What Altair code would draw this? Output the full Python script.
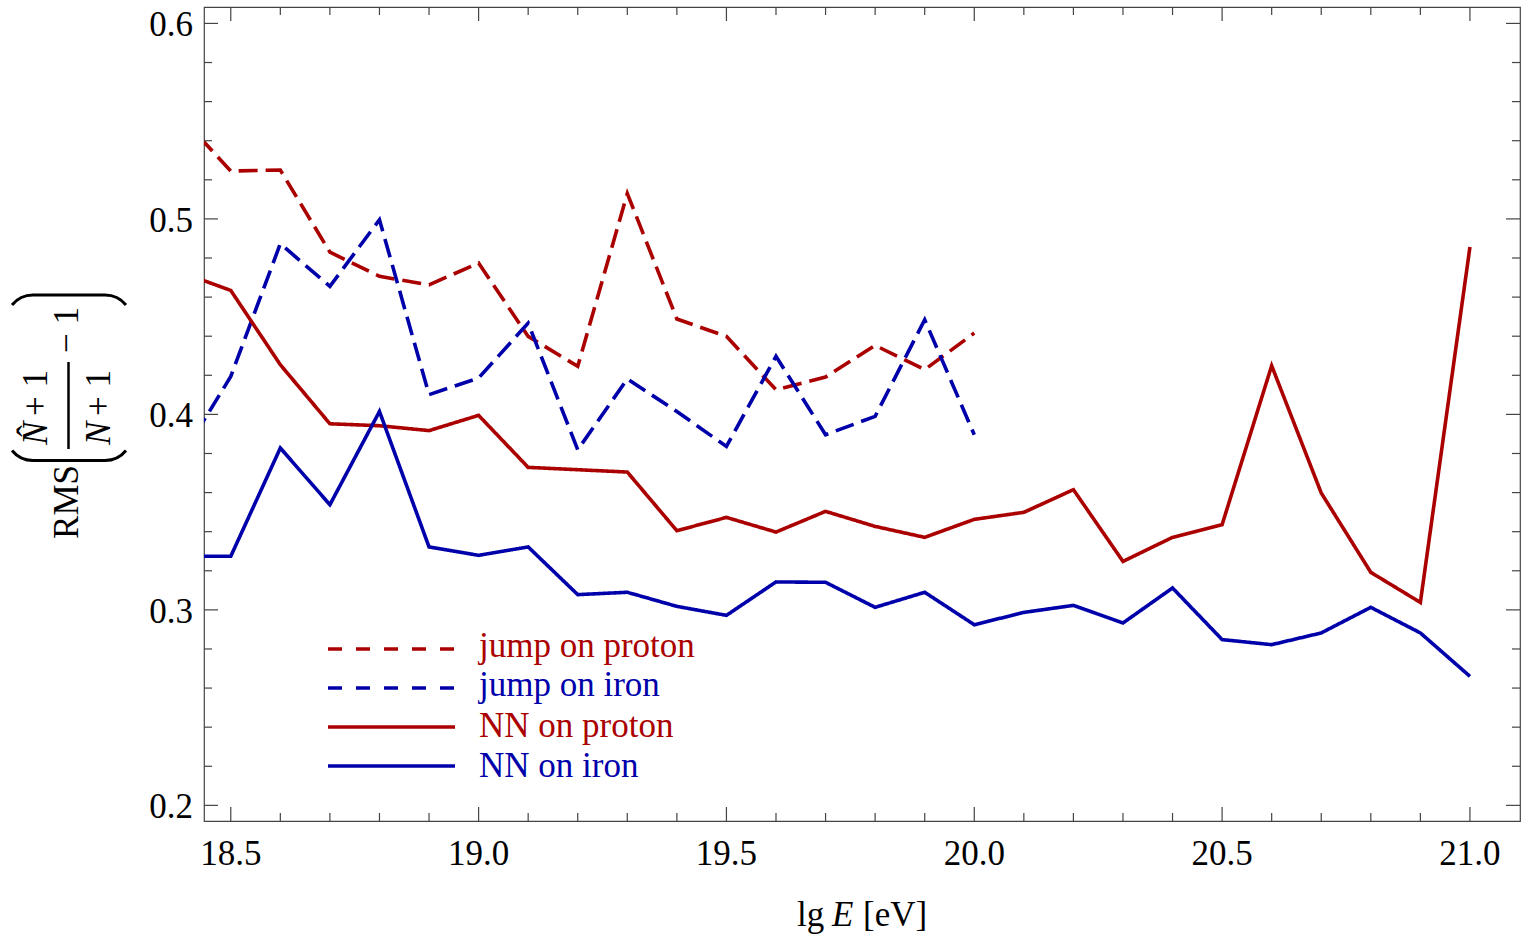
import altair as alt
import pandas as pd

# ---- data -------------------------------------------------------------
# lg(E/eV) bins of the two reconstruction methods
energy_nn = [18.4, 18.5, 18.6, 18.7, 18.8, 18.9, 19.0, 19.1, 19.2, 19.3,
             19.4, 19.5, 19.6, 19.7, 19.8, 19.9, 20.0, 20.1, 20.2, 20.3,
             20.4, 20.5, 20.6, 20.7, 20.8, 20.9, 21.0]
energy_jump = [18.4, 18.5, 18.6, 18.7, 18.8, 18.9, 19.0, 19.1, 19.2,
               19.3, 19.4, 19.5, 19.6, 19.7, 19.8, 19.9, 20.0]

# RMS of the relative muon-number error
rms_jump_proton = [0.552, 0.5245, 0.525, 0.483, 0.4706, 0.4663, 0.4774, 0.4399,
                   0.4246, 0.513, 0.4488, 0.4399, 0.4126, 0.4191, 0.4353,
                   0.4229, 0.4416]
rms_jump_iron = [0.378, 0.4194, 0.4873, 0.4655, 0.4996, 0.4101, 0.4186, 0.4467,
                 0.3819, 0.4181, 0.4015, 0.3836, 0.4297, 0.3896, 0.399,
                 0.4484, 0.3896]
rms_nn_proton = [0.4727, 0.4634, 0.4254, 0.3952, 0.3942, 0.3917, 0.3995, 0.3729,
                 0.3717, 0.3705, 0.3405, 0.3473, 0.3398, 0.3504, 0.3427, 0.3371,
                 0.3463, 0.3499, 0.3615, 0.3248, 0.3371, 0.3436, 0.4249, 0.3598,
                 0.3192, 0.3038, 0.4856]
rms_nn_iron = [0.3274, 0.3274, 0.3828, 0.3538, 0.4015, 0.3322, 0.3279, 0.3322,
               0.3078, 0.309, 0.3018, 0.2972, 0.3143, 0.3141, 0.3013, 0.309,
               0.2924, 0.2987, 0.3023, 0.2933, 0.3112, 0.2848, 0.2822, 0.2882,
               0.3013, 0.2882, 0.266]

series_names = ["jump on proton", "jump on iron", "NN on proton", "NN on iron"]
series_colors = ["#aa0000", "#0000aa", "#aa0000", "#0000aa"]
series_dashes = [[19, 8], [19, 8], [1, 0], [1, 0]]
legend_dashes = [[14, 14], [14, 14], [1, 0], [1, 0]]

x_major = [18.5, 19.0, 19.5, 20.0, 20.5, 21.0]
x_labels = ["18.5", "19.0", "19.5", "20.0", "20.5", "21.0"]
x_minor = [18.6, 18.7, 18.8, 18.9, 19.1, 19.2, 19.3, 19.4, 19.6, 19.7, 19.8,
           19.9, 20.1, 20.2, 20.3, 20.4, 20.6, 20.7, 20.8, 20.9]
y_major = [0.2, 0.3, 0.4, 0.5, 0.6]
y_labels = ["0.2", "0.3", "0.4", "0.5", "0.6"]
y_minor = [0.22, 0.24, 0.26, 0.28, 0.32, 0.34, 0.36, 0.38, 0.42, 0.44, 0.46,
           0.48, 0.52, 0.54, 0.56, 0.58]

rows = []
for name, xs, ys in zip(series_names,
                        [energy_jump, energy_jump, energy_nn, energy_nn],
                        [rms_jump_proton, rms_jump_iron, rms_nn_proton, rms_nn_iron]):
    for xv, yv in zip(xs, ys):
        rows.append({"series": name, "lgE": xv, "rms": yv})
df = pd.DataFrame(rows)

# ---- layout -------------------------------------------------------------
LEFT, TOP, RIGHT, BOTTOM = 204, 7, 10, 113
W, H = 1316, 814
SERIF = "Liberation Serif"
FS = 35
TICK = "#444444"
MAJOR, MINOR = 14, 8

x_scale = alt.Scale(domain=[18.446, 21.101], nice=False, zero=False)
y_scale = alt.Scale(domain=[0.192, 0.6084], nice=False, zero=False)

lines = alt.Chart(df).mark_line(strokeWidth=3.6, clip=True).encode(
    x=alt.X("lgE:Q", scale=x_scale, axis=None),
    y=alt.Y("rms:Q", scale=y_scale, axis=None),
    color=alt.Color("series:N", scale=alt.Scale(domain=series_names, range=series_colors),
                    legend=None),
    strokeDash=alt.StrokeDash("series:N",
                              scale=alt.Scale(domain=series_names, range=series_dashes),
                              legend=None),
)


# inward frame ticks on all four sides
def x_ticks(values, length, top):
    y0, y1 = (0, length) if top else (H, H - length)
    return alt.Chart(pd.DataFrame({"v": values})).mark_rule(
        color=TICK, strokeWidth=1.2).encode(
        x=alt.X("v:Q", scale=x_scale, axis=None),
        y=alt.value(y0), y2=alt.value(y1))


def y_ticks(values, length, right):
    x0, x1 = (W, W - length) if right else (0, length)
    return alt.Chart(pd.DataFrame({"v": values})).mark_rule(
        color=TICK, strokeWidth=1.2).encode(
        y=alt.Y("v:Q", scale=y_scale, axis=None),
        x=alt.value(x0), x2=alt.value(x1))


ticks = []
for side in (False, True):
    ticks += [x_ticks(x_major, MAJOR, side), x_ticks(x_minor, MINOR, side),
              y_ticks(y_major, MAJOR, side), y_ticks(y_minor, MINOR, side)]

# tick labels placed through the same scales
x_tick_labels = alt.Chart(pd.DataFrame({"v": x_major, "t": x_labels})).mark_text(
    font=SERIF, fontSize=FS, color="black", align="center", baseline="alphabetic").encode(
    x=alt.X("v:Q", scale=x_scale, axis=None), y=alt.value(865 - TOP), text="t:N")
y_tick_labels = alt.Chart(pd.DataFrame({"v": y_major, "t": y_labels})).mark_text(
    font=SERIF, fontSize=FS, color="black", align="right", baseline="alphabetic",
    dy=13).encode(
    y=alt.Y("v:Q", scale=y_scale, axis=None), x=alt.value(193 - LEFT), text="t:N")

one = pd.DataFrame({"_": [0]})


def text_at(s, px, py, **kw):
    opts = dict(font=SERIF, fontSize=FS, color="black")
    opts.update(kw)
    return alt.Chart(one).mark_text(text=s, **opts).encode(
        x=alt.value(px - LEFT), y=alt.value(py - TOP))


def rule_at(x0, y0, x1, y1, **kw):
    return alt.Chart(one).mark_rule(**kw).encode(
        x=alt.value(x0 - LEFT), y=alt.value(y0 - TOP),
        x2=alt.value(x1 - LEFT), y2=alt.value(y1 - TOP))


def arc_at(cx, cy, t0, t1, r=27, w=3):
    return alt.Chart(one).mark_arc(radius=r + w / 2, radius2=r - w / 2,
                                   theta=t0, theta2=t1, color="black").encode(
        x=alt.value(cx - LEFT), y=alt.value(cy - TOP))


PI = 3.141592653589793
PHI = 0.89

# x-axis title: lg E [eV]
x_title = [
    text_at("lg", 797, 926, align="left", baseline="alphabetic"),
    text_at("E", 832, 926, align="left", baseline="alphabetic", fontStyle="italic"),
    text_at("[eV]", 863, 926, align="left", baseline="alphabetic"),
]

# y-axis title: RMS( (N^+1)/(N+1) - 1 ), set vertically
rot = dict(angle=270, baseline="alphabetic")
y_title = [
    text_at("RMS", 78, 502, align="center", **rot),
    # stretched parentheses
    rule_at(33, 295, 105, 295, strokeWidth=3, color="black"),
    arc_at(33, 322, 2 * PI - PHI, 2 * PI),
    arc_at(105, 322, 0, PHI),
    rule_at(33, 460.5, 105, 460.5, strokeWidth=3, color="black"),
    arc_at(33, 433.5, PI, PI + PHI),
    arc_at(105, 433.5, PI - PHI, PI),
    # fraction
    rule_at(68.5, 362, 68.5, 449, strokeWidth=2.5, color="black"),
    text_at("N", 47, 445, align="left", fontStyle="italic", **rot),
    text_at("\u02c6", 42, 431, align="center", **rot),
    text_at("+ 1", 47, 416, align="left", **rot),
    text_at("N", 110, 445, align="left", fontStyle="italic", **rot),
    text_at("+ 1", 110, 416, align="left", **rot),
    text_at("\u2212 1", 78, 330, align="center", **rot),
]

# legend
legend = []
line_y = [649, 688, 727, 766]
text_y = [657, 695.5, 736.5, 776.5]
for name, col, dash, ly, ty in zip(series_names, series_colors, legend_dashes, line_y, text_y):
    legend.append(rule_at(328, ly, 455, ly, strokeWidth=3.4, color=col, strokeDash=dash))
    legend.append(text_at(name, 479, ty, align="left", baseline="alphabetic", color=col))

chart = alt.layer(lines, *ticks, x_tick_labels, y_tick_labels,
                  *x_title, *y_title, *legend).properties(
    width=W, height=H,
    padding={"left": LEFT, "top": TOP, "right": RIGHT, "bottom": BOTTOM},
    autosize=alt.AutoSizeParams(type="none"),
    background="white",
).configure_view(stroke="#444444", strokeWidth=1.2)

chart.save("out.html", embed_options={"renderer": "svg", "actions": False})
